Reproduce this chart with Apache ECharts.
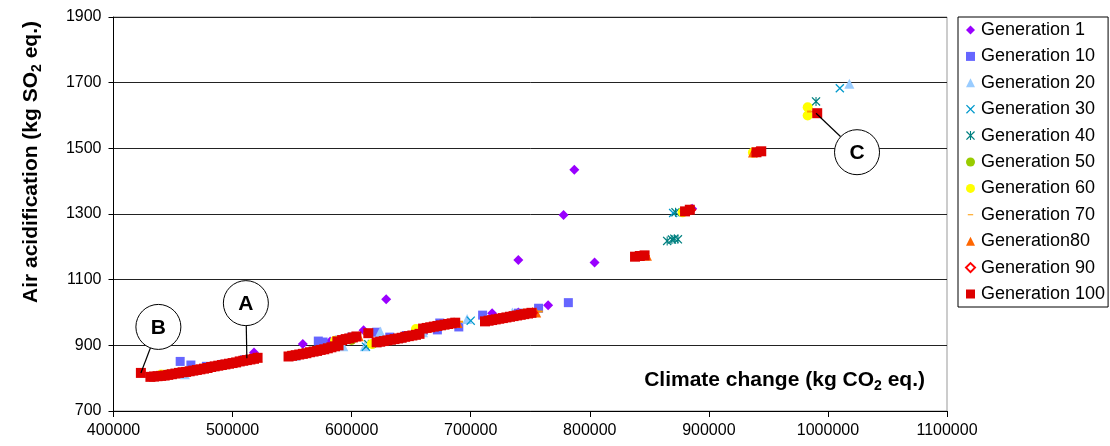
<!DOCTYPE html>
<html><head><meta charset="utf-8">
<script src="https://cdn.jsdelivr.net/npm/echarts@6/dist/echarts.min.js"></script>
<style>html,body{margin:0;padding:0;background:#fff}#c{width:1110px;height:446px}</style>
</head><body><div id="c"></div>
<script>
const FONT = '"Liberation Sans", Arial, sans-serif';
const xTicks = [400000, 1100000, 100000];   // min, max, interval
const yTicks = [700, 1900, 200];

const names = ['Generation 1','Generation 10','Generation 20','Generation 30','Generation 40','Generation 50','Generation 60','Generation 70','Generation80','Generation 90','Generation 100'];

const gen1 = [[787000,1435],[778000,1297],[740000,1160],[804000,1152],[629000,1040],[765000,1022],[718000,998],[610000,946],[518000,878],[559000,904],[886000,1316],[675000,965],[740000,1000],[582000,912]];
const gen10 = [[456000,851],[465000,840],[478000,836],[492000,842],[572000,913],[576000,910],[590000,916],[621000,940],[632000,925],[672000,947],[674000,968],[690000,956],[710000,992],[740000,998],[757000,1013],[782000,1030],[510000,856],[600000,925],[646000,930],[660000,945]];
const gen20 = [[1018000,1697],[697000,980],[611000,897],[624000,942],[593000,897],[660000,940],[735000,1000],[460000,812],[553000,868],[640000,924]];
const gen30 = [[1010000,1683],[612000,896],[640000,920],[455000,815],[700000,975],[870000,1303]];
const gen40 = [[990000,1643],[872000,1305],[865000,1218],[869000,1222],[871000,1225],[874000,1223],[614000,903],[450000,812]];
const gen50 = [[618000,904],[445000,813],[600000,915],[730000,985],[650000,930]];
const gen60 = [[983000,1625],[983000,1600],[654000,950],[617000,904],[548000,868],[878000,1305],[937000,1487],[440000,811],[586000,914],[745000,996]];
const gen70 = [[691000,972],[985000,1612],[878000,1307],[758000,1003],[660000,950],[522000,862],[612000,936],[848000,1172],[460000,818]];
const gen80 = [[937000,1487],[848000,1173],[521000,864],[689000,968],[755000,1000],[606000,928]];
const gen90 = [[885000,1313],[940000,1489],[520000,862],[686000,968],[752000,999]];
const gen100 = [[423000,816],
 [431000,804],[434000,805],[437000,806],[440000,807],[443000,808],[446000,810],[449000,812],[452000,814],[455000,816],[458000,818],[461000,819],[464000,821],[467000,823],[470000,825],[473000,827],[476000,829],[479000,831],[482000,834],[485000,836],[488000,838],[491000,840],[494000,842],[497000,844],[500000,846],[503000,848],[506000,851],[509000,853],[512000,855],[515000,857],[518000,859],[521000,862],
 [547000,866],[550000,868],[553000,870],[556000,872],[559000,874],[562000,876],[565000,879],[568000,881],[571000,883],[574000,886],[577000,888],[580000,891],[583000,894],[586000,897],[589000,900],
 [588000,912],[592000,916],[595000,919],[598000,921],[601000,924],[604000,927],[614000,937],
 [621000,909],[624000,911],[627000,913],[630000,915],[633000,917],[636000,919],[639000,921],[642000,923],[645000,926],[648000,928],[651000,930],[654000,932],[657000,935],
 [660000,951],[663000,953],[666000,955],[669000,957],[672000,959],[675000,961],[678000,963],[681000,965],[684000,967],[687000,969],
 [712000,973],[715000,975],[718000,977],[721000,979],[724000,981],[727000,983],[730000,985],[733000,987],[736000,989],[739000,991],[742000,993],[745000,995],[748000,997],[751000,999],
 [838000,1170],[842000,1172],[846000,1174],[880000,1308],[884000,1313],[940000,1488],[944000,1491],[991000,1607]];

const annotations = [
  {label:'B', at:[423000,816], dx:17.5, dy:-46},
  {label:'A', at:[512000,861], dx:-1, dy:-55},
  {label:'C', at:[990000,1607], dx:41, dy:39}
];

const X_PATH = 'path://M0,1 L1,0 L5,4 L9,0 L10,1 L6,5 L10,9 L9,10 L5,6 L1,10 L0,9 L4,5 Z';
const AST_PATH = 'path://M0,1 L1,0 L5,4 L9,0 L10,1 L6,5 L10,9 L9,10 L5,6 L1,10 L0,9 L4,5 Z M4.4,0 L5.6,0 L5.6,10 L4.4,10 Z';
const DASH_ICON = 'path://M0,0 L0.01,0 L0.01,0.01 Z M2,4.4 L8,4.4 L8,5.6 L2,5.6 Z M9.99,9.99 L10,9.99 L10,10 Z';

const data = [gen1,gen10,gen20,gen30,gen40,gen50,gen60,gen70,gen80,gen90,gen100];
const styles = [
  {symbol:'diamond', size:10, color:'#9900FF'},
  {symbol:'rect', size:9, color:'#6666FF'},
  {symbol:'triangle', size:10, color:'#99CCFF'},
  {symbol:X_PATH, size:9, color:'#0099CC'},
  {symbol:AST_PATH, size:9, color:'#008080'},
  {symbol:'circle', size:9, color:'#99CC00'},
  {symbol:'circle', size:10, color:'#FFFF00'},
  {symbol:'rect', size:[6,2], color:'#FF9900', icon:DASH_ICON},
  {symbol:'triangle', size:10, color:'#FF6600'},
  {symbol:'diamond', size:9, color:'#FFFFFF', border:'#FF0000'},
  {symbol:'rect', size:10, color:'#DD0000'}
];

const chart = echarts.init(document.getElementById('c'), null, {renderer:'canvas'});
const series = names.map((n,i)=>({
  name:n, type:'scatter', data:data[i], symbol:styles[i].symbol, symbolSize:styles[i].size,
  itemStyle: styles[i].border ? {color:styles[i].color, borderColor:styles[i].border, borderWidth:1.5, opacity:1} : {color:styles[i].color, opacity:1},
  emphasis:{disabled:true}, z: 2+i
}));

chart.setOption({
  animation:false,
  backgroundColor:'#fff',
  textStyle:{fontFamily:FONT},
  grid:{left:113.5, right:163, top:17, bottom:35, show:true, borderColor:'#999', borderWidth:1, backgroundColor:'#fff'},
  xAxis:{type:'value', min:xTicks[0], max:xTicks[1], interval:xTicks[2],
    axisLine:{show:true, onZero:false, lineStyle:{color:'#000', width:1}},
    axisTick:{show:true, length:6, lineStyle:{color:'#000'}},
    axisLabel:{color:'#000', fontSize:16, fontFamily:FONT, margin:12, formatter:v=>String(v)},
    splitLine:{show:false}},
  yAxis:{type:'value', min:yTicks[0], max:yTicks[1], interval:yTicks[2],
    axisLine:{show:true, lineStyle:{color:'#000', width:1}},
    axisTick:{show:true, length:5, lineStyle:{color:'#000'}},
    axisLabel:{color:'#000', fontSize:16, fontFamily:FONT, margin:12, formatter:v=>String(v)},
    splitLine:{show:true, lineStyle:{color:'#222', width:1}}},
  legend:{orient:'vertical', left:958, top:17, padding:[4,3,4,7], itemWidth:9, itemHeight:9, itemGap:8.4,
    backgroundColor:'#fff', borderColor:'#000', borderWidth:1, borderRadius:0,
    textStyle:{color:'#000', fontSize:18, fontFamily:FONT, padding:[0,0,0,1]},
    data:names.map((n,i)=>styles[i].icon ? {name:n, icon:styles[i].icon} : {name:n}),
    selectedMode:false},
  series:series
});

const g = [];
annotations.forEach(a=>{
  const p = chart.convertToPixel({gridIndex:0}, a.at);
  const cx = p[0]+a.dx, cy = p[1]+a.dy, r = 22.5;
  const d = Math.hypot(a.dx, a.dy);
  g.push({type:'line', z:100, shape:{x1:p[0], y1:p[1], x2:cx - a.dx/d*r, y2:cy - a.dy/d*r}, style:{stroke:'#000', lineWidth:1.2}});
  g.push({type:'circle', z:101, shape:{cx:cx, cy:cy, r:r}, style:{fill:'#fff', stroke:'#000', lineWidth:1}});
  g.push({type:'text', z:102, x:cx, y:cy+1, style:{text:a.label, fill:'#000', fontSize:21, fontWeight:'bold', fontFamily:FONT, align:'center', verticalAlign:'middle'}});
});
g.push({type:'text', z:102, x:925, y:380, style:{
  text:'{a|Climate change (kg CO}{s|2}{a| eq.)}', align:'right', verticalAlign:'middle',
  rich:{a:{fontSize:21, fontWeight:'bold', fontFamily:FONT, fill:'#000', lineHeight:26},
        s:{fontSize:14, fontWeight:'bold', fontFamily:FONT, fill:'#000', lineHeight:14, verticalAlign:'bottom', padding:[0,0,0,0]}}}});
g.push({type:'text', z:102, x:31, y:162, rotation:Math.PI/2, style:{
  text:'{a|Air acidification (kg SO}{s|2}{a| eq.)}', align:'center', verticalAlign:'middle',
  rich:{a:{fontSize:21, fontWeight:'bold', fontFamily:FONT, fill:'#000', lineHeight:26},
        s:{fontSize:14, fontWeight:'bold', fontFamily:FONT, fill:'#000', lineHeight:14, verticalAlign:'bottom'}}}});
chart.setOption({graphic:g});
</script></body></html>
